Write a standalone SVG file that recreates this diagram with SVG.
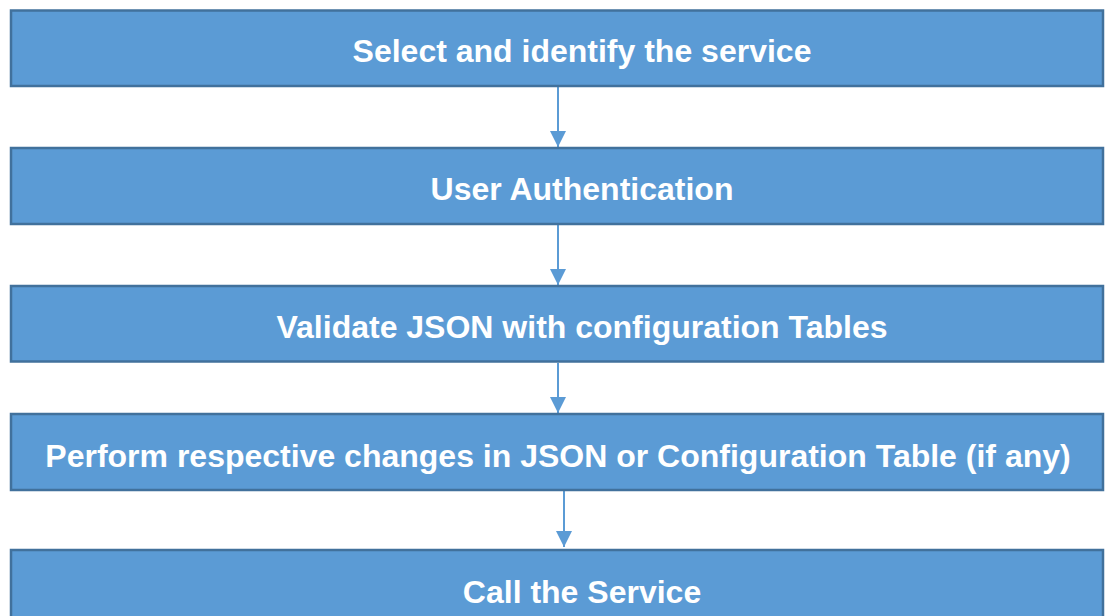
<svg xmlns="http://www.w3.org/2000/svg" width="1105" height="616" viewBox="0 0 1105 616">
<defs>
<style>
.box{fill:#5B9BD5;stroke:#41719C;stroke-width:2.5}
.lbl{font-family:"Liberation Sans",Arial,sans-serif;font-weight:bold;font-size:32px;fill:#FFFFFF;text-anchor:middle}
.con{stroke:#5B9BD5;stroke-width:2;fill:none;marker-end:url(#ah)}
</style>
<marker id="ah" markerUnits="userSpaceOnUse" markerWidth="16" markerHeight="16" refX="16" refY="8" orient="auto" viewBox="0 0 16 16">
<path d="M0,0 L16,8 L0,16 Z" fill="#5B9BD5"/>
</marker>
</defs>
<rect width="1105" height="616" fill="#FFFFFF"/>
<g id="connectors">
<line class="con" x1="558" y1="87" x2="558" y2="147"/>
<line class="con" x1="558" y1="225" x2="558" y2="285"/>
<line class="con" x1="558" y1="363" x2="558" y2="413"/>
<line class="con" x1="564" y1="491" x2="564" y2="547"/>
</g>
<g id="n1">
<rect class="box" x="11" y="10.5" width="1092" height="75.5"/>
<text class="lbl" x="582" y="62">Select and identify the service</text>
</g>
<g id="n2">
<rect class="box" x="11" y="148" width="1092" height="76"/>
<text class="lbl" x="582" y="200">User Authentication</text>
</g>
<g id="n3">
<rect class="box" x="11" y="286" width="1092" height="75.5"/>
<text class="lbl" x="582" y="338">Validate JSON with configuration Tables</text>
</g>
<g id="n4">
<rect class="box" x="11" y="414" width="1092" height="76"/>
<text class="lbl" x="558" y="467">Perform respective changes in JSON or Configuration Table (if any)</text>
</g>
<g id="n5">
<rect class="box" x="11" y="550" width="1092" height="80"/>
<text class="lbl" x="582" y="603">Call the Service</text>
</g>
</svg>
